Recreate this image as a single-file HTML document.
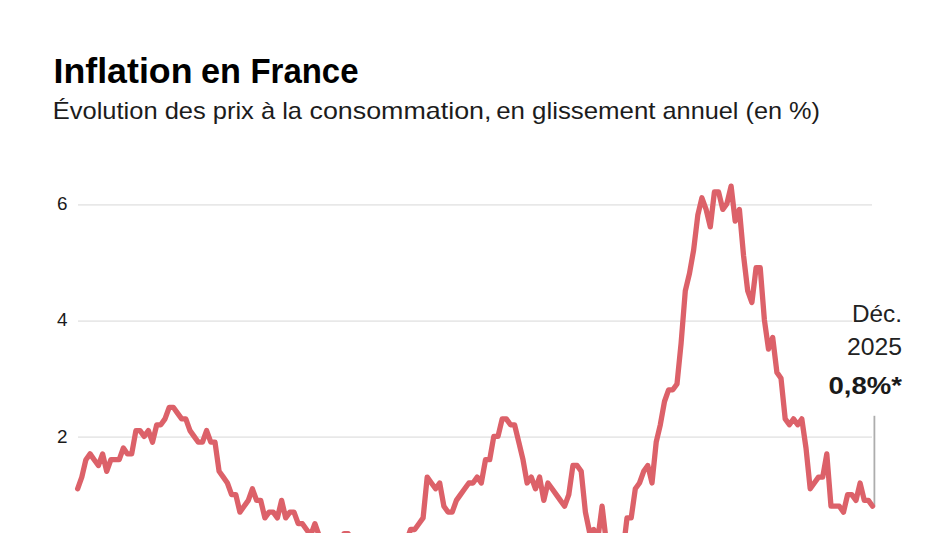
<!DOCTYPE html>
<html><head><meta charset="utf-8">
<style>
html,body{margin:0;padding:0;background:#fff;}
body{width:950px;height:533px;overflow:hidden;position:relative;font-family:"Liberation Sans",sans-serif;}
svg{position:absolute;left:0;top:0;}
</style></head>
<body>
<svg width="950" height="533" viewBox="0 0 950 533">
<rect width="950" height="533" fill="#fff"/>
<g font-family="Liberation Sans" font-weight="bold" font-size="35" fill="#000">
<text x="53.5" y="83.3" textLength="139" lengthAdjust="spacingAndGlyphs">Inflation</text>
<text x="201" y="83.3" textLength="40" lengthAdjust="spacingAndGlyphs">en</text>
<text x="250.5" y="83.3" textLength="108" lengthAdjust="spacingAndGlyphs">France</text>
</g>
<g font-family="Liberation Sans" font-size="24" fill="#1c1c1c">
<text x="52.8" y="119.4" textLength="249.2" lengthAdjust="spacingAndGlyphs">Évolution des prix à la</text>
<text x="309.5" y="119.4" textLength="182" lengthAdjust="spacingAndGlyphs">consommation,</text>
<text x="496.2" y="119.4" textLength="159.3" lengthAdjust="spacingAndGlyphs">en glissement</text>
<text x="662.5" y="119.4" textLength="157.5" lengthAdjust="spacingAndGlyphs">annuel (en %)</text>
</g>
<g stroke="#e8e8e8" stroke-width="1.7">
<line x1="78" y1="204.8" x2="872" y2="204.8"/>
<line x1="78" y1="321.2" x2="852.5" y2="321.2"/>
<line x1="78" y1="437.2" x2="872" y2="437.2"/>
</g>
<g font-family="Liberation Sans" font-size="18" fill="#1a1a1a">
<text x="57" y="210.3" textLength="10.5" lengthAdjust="spacingAndGlyphs">6</text>
<text x="57" y="326" textLength="10.5" lengthAdjust="spacingAndGlyphs">4</text>
<text x="57" y="443" textLength="10.5" lengthAdjust="spacingAndGlyphs">2</text>
</g>
<line x1="874.4" y1="415.8" x2="874.4" y2="506" stroke="#adadad" stroke-width="1.8"/>
<path d="M77.6,488.8 L81.8,477.1 L85.9,459.7 L90.1,453.9 L94.2,459.7 L98.4,465.5 L102.6,453.9 L106.7,471.3 L110.9,459.7 L115.1,459.7 L119.2,459.7 L123.4,448.0 L127.5,453.9 L131.7,453.9 L135.9,430.6 L140.0,430.6 L144.2,436.4 L148.4,430.6 L152.5,442.2 L156.7,424.8 L160.8,424.8 L165.0,418.9 L169.2,407.3 L173.3,407.3 L177.5,413.1 L181.7,418.9 L185.8,418.9 L190.0,430.6 L194.1,436.4 L198.3,442.2 L202.5,442.2 L206.6,430.6 L210.8,442.2 L215.0,442.2 L219.1,471.3 L223.3,477.1 L227.4,483.0 L231.6,494.6 L235.8,494.6 L239.9,512.1 L244.1,506.2 L248.3,500.4 L252.4,488.8 L256.6,500.4 L260.7,500.4 L264.9,517.9 L269.1,512.1 L273.2,512.1 L277.4,517.9 L281.6,500.4 L285.7,517.9 L289.9,512.1 L294.0,512.1 L298.2,523.7 L302.4,523.7 L306.5,529.5 L310.7,535.3 L314.9,523.7 L319.0,535.3 L323.2,547.0 L327.3,576.1 L331.5,570.3 L335.7,558.6 L339.8,547.0 L344.0,533.6 L348.1,533.6 L352.3,541.2 L356.5,547.0 L360.6,552.8 L364.8,547.0 L369.0,547.0 L373.1,541.2 L377.3,541.2 L381.4,564.4 L385.6,564.4 L389.8,564.4 L393.9,552.8 L398.1,541.2 L402.3,541.2 L406.4,541.2 L410.6,529.5 L414.7,529.5 L418.9,523.7 L423.1,517.9 L427.2,477.1 L431.4,483.0 L435.6,488.8 L439.7,483.0 L443.9,506.2 L448.0,512.1 L452.2,512.1 L456.4,500.4 L460.5,494.6 L464.7,488.8 L468.9,483.0 L473.0,483.0 L477.2,477.1 L481.3,483.0 L485.5,459.7 L489.7,459.7 L493.8,436.4 L498.0,436.4 L502.2,418.9 L506.3,418.9 L510.5,424.8 L514.6,424.8 L518.8,442.2 L523.0,459.7 L527.1,483.0 L531.3,477.1 L535.5,488.8 L539.6,477.1 L543.8,500.4 L547.9,483.0 L552.1,488.8 L556.3,494.6 L560.4,500.4 L564.6,506.2 L568.8,494.6 L572.9,465.5 L577.1,465.5 L581.2,471.3 L585.4,512.1 L589.6,532.4 L593.7,529.5 L597.9,538.2 L602.1,506.2 L606.2,541.2 L610.4,552.8 L614.5,552.8 L618.7,541.2 L622.9,552.8 L627.0,517.9 L631.2,517.9 L635.3,488.8 L639.5,483.0 L643.7,471.3 L647.8,465.5 L652.0,483.0 L656.2,442.2 L660.3,424.8 L664.5,401.5 L668.6,389.8 L672.8,389.8 L677.0,384.0 L681.1,343.3 L685.3,290.9 L689.5,273.4 L693.6,250.2 L697.8,215.2 L701.9,197.8 L706.1,209.4 L710.3,226.9 L714.4,192.0 L718.6,192.0 L722.8,209.4 L726.9,203.6 L731.1,186.1 L735.2,221.1 L739.4,209.4 L743.6,256.0 L747.7,290.9 L751.9,302.5 L756.1,267.6 L760.2,267.6 L764.4,320.0 L768.5,349.1 L772.7,337.5 L776.9,372.4 L781.0,378.2 L785.2,418.9 L789.4,424.8 L793.5,418.9 L797.7,424.8 L801.8,418.9 L806.0,448.0 L810.2,488.8 L814.3,483.0 L818.5,477.1 L822.7,477.1 L826.8,453.9 L831.0,506.2 L835.1,506.2 L839.3,506.2 L843.5,512.1 L847.6,494.6 L851.8,494.6 L856.0,500.4 L860.1,483.0 L864.3,500.4 L868.4,500.4 L872.6,506.2" fill="none" stroke="#dc6169" stroke-width="5.3" stroke-linejoin="round" stroke-linecap="round"/>
<g font-family="Liberation Sans" fill="#222" text-anchor="end">
<text x="902" y="321.7" font-size="24" textLength="50" lengthAdjust="spacingAndGlyphs">Déc.</text>
<text x="902" y="355.4" font-size="24" textLength="55" lengthAdjust="spacingAndGlyphs">2025</text>
<text x="902" y="394.4" font-size="24" font-weight="bold" fill="#1a1a1a" textLength="73.5" lengthAdjust="spacingAndGlyphs">0,8%*</text>
</g>
</svg>
</body></html>
